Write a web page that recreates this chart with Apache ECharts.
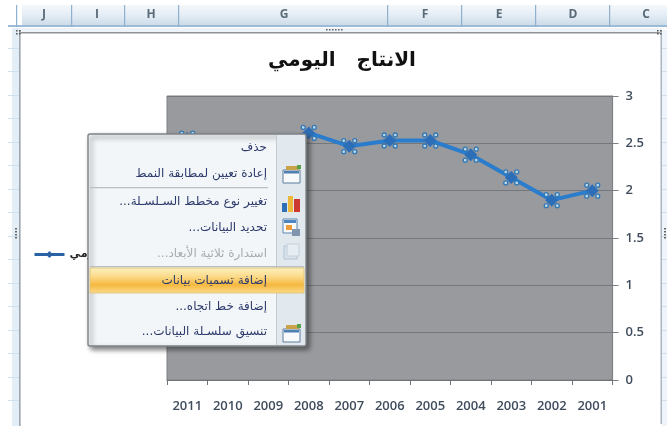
<!DOCTYPE html>
<html lang="ar">
<head>
<meta charset="utf-8">
<style>html,body{margin:0;padding:0;background:#fff}#c{width:667px;height:426px;filter:blur(0.4px)}</style>
<script src="https://cdn.jsdelivr.net/npm/echarts@6/dist/echarts.min.js"></script>
</head>
<body>
<div id="c"></div>
<script>
const chartTitle = 'الانتاج   اليومي';
const seriesName = 'الانتاج اليومي';
const years = ['2011','2010','2009','2008','2007','2006','2005','2004','2003','2002','2001'];
const dailyOutput = [2.55,2.5,2.48,2.61,2.47,2.53,2.53,2.38,2.14,1.9,2.0];
const yMin = 0, yMax = 3, yStep = 0.5;
const columnNames = ['J','I','H','G','F','E','D','C'];
const columnCentres = [44,97,151,284,425,499,573,646];
const columnEdges = [16,71,124,178,387,461,535,609];
const menuLabels = ['حذف','إعادة تعيين لمطابقة النمط','تغيير نوع مخطط السـلسـلة...','تحديد البيانات...','استدارة ثلاثية الأبعاد...','إضافة تسميات بيانات','إضافة خط اتجاه...','تنسيق سلسـلة البيانات...'];
const menuRows = [148,174,202,228,254,281,307,332];
const disabledRow = 4;

const FONT = '"DejaVu Sans"';
const RLM = '\u200F';
const rect = (x,y,width,height,fill,extra={}) => ({type:'rect',silent:true,z:extra.z||100,shape:{x,y,width,height,r:extra.r||0},style:Object.assign({fill},extra.style||{})});
const grad = (stops) => ({type:'linear',x:0,y:0,x2:0,y2:1,colorStops:stops.map((c,i)=>({offset:i/(stops.length-1),color:c}))});
const label = (x,y,text,font,fill,align='center') => ({type:'text',silent:true,z:110,x,y,style:{text,font,fill,align,verticalAlign:'middle'}});

const handlesPath = 'path://M0 2a2 2 0 1 0 4 0a2 2 0 1 0 -4 0ZM11 2a2 2 0 1 0 4 0a2 2 0 1 0 -4 0ZM0 13a2 2 0 1 0 4 0a2 2 0 1 0 -4 0ZM11 13a2 2 0 1 0 4 0a2 2 0 1 0 -4 0Z';

const g = [];
// spreadsheet header
g.push(rect(22,5,645,20,grad(['#f4f8fb','#e4edf5','#cddcea'])));
g.push(rect(8,25,659,2,'#9dbbd6'));
columnEdges.forEach(x=>g.push(rect(x,5,1.2,22,'#8fb0cf')));
columnNames.forEach((n,i)=>g.push(label(columnCentres[i],15,n,'bold 12px "Open Sans"','#5a6b78')));
// chart frame
g.push(rect(15,28,647,5,'#edf3f8'));
g.push(rect(20,32,640,1.6,'#8f9296'));
g.push(rect(12,28,7,398,'#e3eef7'));
g.push(rect(19,30,1.6,396,'#9aa5ae'));
g.push(rect(660.5,30,1.6,394,'#a9b6c1'));
g.push(rect(662,30,5,396,'#eef4f9'));
[48,71,95,118,142,165,189,212,236,259,283,306,330,353,377,400].forEach(y=>{
  g.push(rect(8,y,11,1,'#cfe0ee'));
  g.push(rect(662,y,5,1,'#cfe0ee'));
});
// sizing handles
[[16,30],[19,30],[16,33],[19,33],[657,30],[660,30],[657,33],[660,33]].forEach(p=>g.push(rect(p[0],p[1],1.6,1.6,'#555')));
[326,329,332,335,338,341].forEach(x=>g.push(rect(x,29,1.6,1.6,'#666')));
[228,231,234,237].forEach(y=>{g.push(rect(15,y,2,1.6,'#666'));g.push(rect(664,y,2,1.6,'#666'));});

// context menu
g.push(rect(88,134,218,212,'#f3f6f8',{r:2,style:{stroke:'#7f8488',lineWidth:1.4,shadowBlur:5,shadowColor:'rgba(40,40,40,0.6)',shadowOffsetX:3,shadowOffsetY:3}}));
g.push(rect(277,135,28,210,'#e1e9ee'));
g.push(rect(276,135,1,210,'#c4ccd2'));
g.push(rect(90,187,178,1.2,'#b9bfc4'));
g.push(rect(90,266,214,1.2,'#b9bfc4'));
g.push(rect(90,268,214,25,grad(['#fdf0c0','#fbdc8c','#f6b83f','#fbdc8c']),{style:{stroke:'#e0c77c',lineWidth:1}}));
menuLabels.forEach((t,i)=>g.push(label(267,menuRows[i],t+RLM,'12px '+FONT,i===disabledRow?'#a8acb0':'#2c3a6c','right')));
// menu icons
const drawDocIcon = (x,y)=>{
  g.push(rect(x,y+4,17,13,'#f7f9fb',{style:{stroke:'#5d7d9c',lineWidth:1}}));
  g.push(rect(x+1,y+5,15,2.5,'#4d7fb0'));
  g.push(rect(x+3,y,13,4,'#c9a24a'));
  g.push(rect(x+14,y-1,4,4,'#58a34a'));
};
drawDocIcon(283,166);
g.push(rect(282,203,5,9,'#2f6fb5'));
g.push(rect(288,196,5,16,'#eeb83c'));
g.push(rect(294,199,6,13,'#cc3a30'));
g.push(rect(283,219,14,14,'#f7f9fb',{style:{stroke:'#5d85b0',lineWidth:1}}));
g.push(rect(284,220,12,3,'#4d86c0'));
g.push(rect(286,225,6,5,'#ef9b3c'));
g.push(rect(292,229,8,7,'#7f96ae'));
g.push(rect(284,246,13,13,'#d9e3ec',{style:{stroke:'#b5c4d2',lineWidth:1}}));
g.push(rect(287,244,12,12,'#e6edf3',{style:{stroke:'#c3d0db',lineWidth:1}}));
drawDocIcon(283,325);

const chart = echarts.init(document.getElementById('c'),null,{renderer:'canvas'});
chart.setOption({
  animation:false,
  backgroundColor:'#ffffff',
  title:{text:chartTitle,left:337,top:46,textAlign:'center',textStyle:{fontFamily:FONT,fontWeight:'bold',fontSize:20,color:'#111'}},
  legend:{data:[{name:seriesName,itemStyle:{color:'#2b62a6'},lineStyle:{color:'#2b62a6',width:3}}],left:28,top:244,itemWidth:30,itemHeight:9,itemGap:4,textStyle:{fontFamily:FONT,fontSize:11,fontWeight:'bold',color:'#222'}},
  grid:{left:167,right:54.5,top:96,bottom:46,show:true,backgroundColor:'#999a9e',borderColor:'#7d8084',borderWidth:1},
  xAxis:{type:'category',data:years,boundaryGap:true,
    axisLine:{lineStyle:{color:'#6f7478',width:1.2}},
    axisTick:{show:true,length:5,alignWithLabel:false,lineStyle:{color:'#6f7478'}},
    axisLabel:{interval:0,margin:20,fontFamily:'"Open Sans"',fontSize:13,fontWeight:600,color:'#3f4c5c'},
    splitLine:{show:false}},
  yAxis:{type:'value',position:'right',min:yMin,max:yMax,interval:yStep,
    axisLine:{show:true,lineStyle:{color:'#7d8084',width:1.2}},
    axisTick:{show:true,length:6,lineStyle:{color:'#7d8084'}},
    axisLabel:{margin:13,fontFamily:'"Open Sans"',fontSize:13,fontWeight:600,color:'#3f4c5c'},
    splitLine:{show:true,lineStyle:{color:'#74777b',width:1}}},
  series:[
    {name:seriesName,type:'line',data:dailyOutput,symbol:'diamond',symbolSize:13,showSymbol:true,
     lineStyle:{color:'#2a7ccc',width:4},itemStyle:{color:'#2c6fb8'},z:3},
    {name:'handles',type:'scatter',data:dailyOutput,symbol:handlesPath,symbolSize:15,
     itemStyle:{color:'#bcd8ec',borderColor:'#3278b4',borderWidth:1.3,opacity:1},z:4,silent:true}
  ],
  graphic:{elements:g}
});
</script>
</body>
</html>
